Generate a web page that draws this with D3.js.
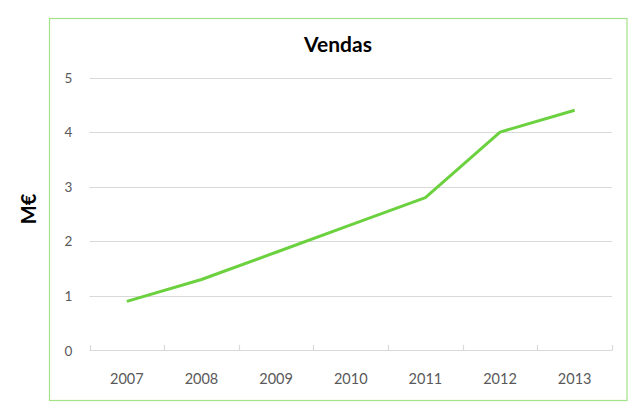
<!DOCTYPE html>
<html>
<head>
<meta charset="utf-8">
<script src="https://cdn.jsdelivr.net/npm/d3@7"></script>
<style>
  html, body { margin: 0; padding: 0; background: #fff; }
  svg { display: block; }
</style>
</head>
<body>
<svg id="chart" width="632" height="406"></svg>
<script>
// Annual sales, in millions of euros
const years = ["2007", "2008", "2009", "2010", "2011", "2012", "2013"];
const sales = [0.9, 1.3, 1.8, 2.3, 2.8, 4.0, 4.4];
const yTicks = [0, 1, 2, 3, 4, 5];

const chartTitle = "Vendas";
const yTitle = "M€";

const font = "Lato, 'Open Sans', sans-serif";
const svg = d3.select("#chart");

// Chart frame
svg.append("rect")
  .attr("x", 49.5).attr("y", 18.5)
  .attr("width", 577.5).attr("height", 382)
  .attr("fill", "#fff")
  .attr("stroke", "#a4e286")
  .attr("stroke-width", 1.2);

const x = d3.scaleBand().domain(years).range([89.5, 612]);
const y = d3.scaleLinear().domain([0, 5]).range([350.5, 77.5]);

// Horizontal gridlines
svg.append("g")
  .selectAll("line")
  .data(yTicks.filter(d => d > 0))
  .join("line")
  .attr("x1", x.range()[0]).attr("x2", x.range()[1])
  .attr("y1", d => Math.round(y(d)) + 0.5)
  .attr("y2", d => Math.round(y(d)) + 0.5)
  .attr("stroke", "#d9d9d9")
  .attr("stroke-width", 1);

// Category axis with tick marks at band boundaries
const xAxisG = svg.append("g");
xAxisG.append("line")
  .attr("x1", x.range()[0]).attr("x2", x.range()[1])
  .attr("y1", y(0)).attr("y2", y(0))
  .attr("stroke", "#d9d9d9").attr("stroke-width", 1.2);
const bounds = years.map(d => x(d)).concat([x.range()[1]]);
xAxisG.selectAll("line.tick")
  .data(bounds)
  .join("line")
  .attr("class", "tick")
  .attr("x1", d => Math.round(d) + 0.5).attr("x2", d => Math.round(d) + 0.5)
  .attr("y1", y(0) - 5.5).attr("y2", y(0))
  .attr("stroke", "#d9d9d9").attr("stroke-width", 1.2);

xAxisG.selectAll("text")
  .data(years)
  .join("text")
  .attr("x", d => x(d) + x.bandwidth() / 2)
  .attr("y", 384)
  .attr("text-anchor", "middle")
  .attr("font-family", font)
  .attr("font-size", 14.5)
  .attr("fill", "#595959")
  .text(d => d);

// Value axis labels
svg.append("g")
  .selectAll("text")
  .data(yTicks)
  .join("text")
  .attr("x", 68.5)
  .attr("y", d => y(d) + 5)
  .attr("text-anchor", "middle")
  .attr("font-family", font)
  .attr("font-size", 13.5)
  .attr("fill", "#595959")
  .text(d => d);

// Sales line
const line = d3.line()
  .x((d, i) => x(years[i]) + x.bandwidth() / 2)
  .y(d => y(d));

svg.append("path")
  .datum(sales)
  .attr("d", line)
  .attr("fill", "none")
  .attr("stroke", "#6bd13f")
  .attr("stroke-width", 3)
  .attr("stroke-linejoin", "round")
  .attr("stroke-linecap", "butt");

// Titles
svg.append("text")
  .attr("x", 338).attr("y", 51.5)
  .attr("text-anchor", "middle")
  .attr("font-family", font)
  .attr("font-weight", "bold")
  .attr("font-size", 21)
  .attr("fill", "#000")
  .text(chartTitle);

svg.append("text")
  .attr("transform", "translate(36,209) rotate(-90)")
  .attr("text-anchor", "middle")
  .attr("font-family", font)
  .attr("font-weight", "bold")
  .attr("font-size", 20)
  .attr("fill", "#000")
  .text(yTitle);
</script>
</body>
</html>
